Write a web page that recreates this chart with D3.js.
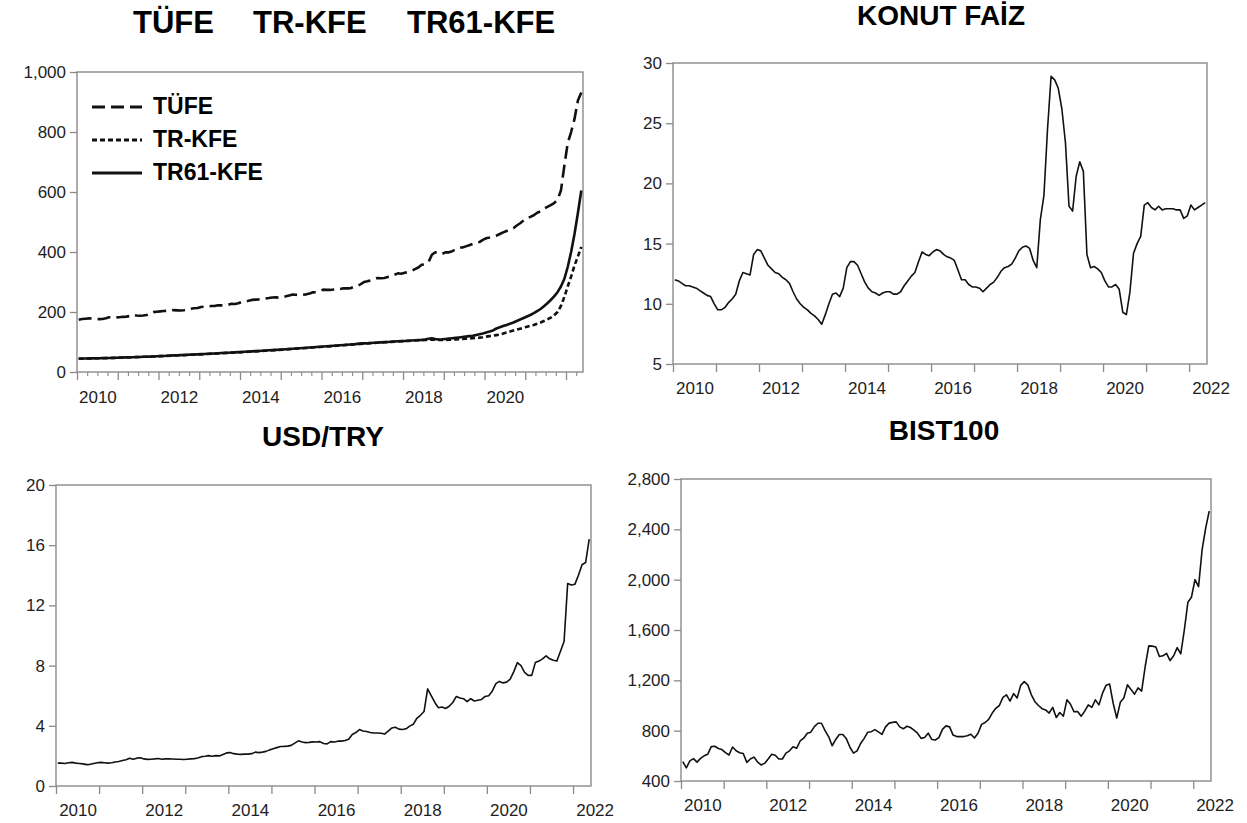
<!DOCTYPE html>
<html>
<head>
<meta charset="utf-8">
<script src="https://cdn.jsdelivr.net/npm/d3@7"></script>
<style>
  body { margin: 0; background: #fff; }
  svg { display: block; }
</style>
</head>
<body>
<svg id="chart" width="1247" height="823"></svg>
<script>
// Monthly observations, January 2010 – May 2022
const startYear = 2010;
const yearTicks = [2010, 2011, 2012, 2013, 2014, 2015, 2016, 2017, 2018, 2019, 2020, 2021, 2022];
const labelYearsShort = [2010, 2012, 2014, 2016, 2018, 2020];
const labelYearsFull = [2010, 2012, 2014, 2016, 2018, 2020, 2022];

// Price indices
const tufe = [
  174.1, 176.6, 177.6, 178.7, 178.0, 177.0, 176.2, 176.9, 179.1, 182.4, 182.4, 181.9,
  182.6, 183.9, 184.7, 186.3, 190.8, 188.1, 187.3, 188.2, 189.9, 196.3, 199.7, 200.9,
  202.0, 203.1, 204.0, 207.1, 206.1, 205.4, 204.8, 205.7, 208.0, 211.1, 212.6, 213.2,
  216.7, 217.4, 218.8, 219.8, 219.8, 222.2, 222.0, 221.7, 223.9, 227.6, 226.7, 229.0,
  233.5, 234.5, 237.2, 240.4, 241.3, 242.1, 243.2, 244.7, 246.4, 248.4, 248.8, 247.7,
  250.5, 252.2, 255.2, 258.0, 257.3, 256.8, 257.1, 258.8, 261.5, 265.5, 265.7, 269.5,
  274.5, 273.7, 273.6, 274.8, 277.0, 276.4, 279.1, 278.9, 279.4, 283.9, 285.8, 292.5,
  299.7, 302.3, 305.7, 309.2, 313.2, 312.6, 313.5, 316.4, 319.0, 324.2, 328.9, 327.4,
  330.8, 334.1, 336.5, 342.8, 348.3, 357.2, 359.3, 366.1, 390.8, 399.1, 394.3, 393.9,
  398.6, 398.9, 402.8, 408.5, 414.9, 415.0, 418.8, 422.6, 426.6, 431.1, 433.1, 440.5,
  445.9, 448.1, 450.9, 454.3, 460.0, 465.4, 470.2, 474.6, 479.1, 488.2, 495.7, 504.8,
  513.3, 517.1, 522.6, 531.0, 535.1, 544.4, 550.6, 556.4, 563.0, 574.0, 604.8, 687.0,
  763.2, 799.9, 843.6, 904.8, 931.8
];
const trKfe = [
  44.0, 44.3, 44.6, 44.8, 45.1, 45.4, 45.6, 45.9, 46.2, 46.5, 46.8, 47.1,
  47.4, 47.9, 48.3, 48.8, 49.2, 49.7, 50.1, 50.6, 51.0, 51.5, 51.9, 52.4,
  52.9, 53.4, 53.9, 54.4, 54.9, 55.4, 55.9, 56.4, 56.9, 57.4, 57.9, 58.4,
  58.9, 59.5, 60.1, 60.7, 61.3, 61.9, 62.5, 63.1, 63.7, 64.3, 64.9, 65.5,
  66.1, 66.8, 67.5, 68.2, 68.9, 69.6, 70.3, 71.0, 71.7, 72.4, 73.1, 73.8,
  74.6, 75.4, 76.2, 77.0, 77.8, 78.6, 79.4, 80.2, 81.0, 81.8, 82.6, 83.4,
  84.2, 85.0, 85.8, 86.7, 87.6, 88.5, 89.4, 90.3, 91.2, 92.1, 93.0, 93.9,
  94.8, 95.5, 96.2, 96.9, 97.6, 98.3, 99.0, 99.7, 100.4, 101.1, 101.8, 102.5,
  103.2, 103.8, 104.4, 105.0, 105.6, 106.2, 106.8, 107.2, 107.6, 107.3, 106.9, 106.5,
  107.0, 107.6, 108.2, 108.9, 109.6, 110.3, 111.0, 111.8, 112.6, 113.5, 114.5, 116.0,
  118.0, 119.5, 121.0, 123.0, 125.0, 128.0, 131.5, 135.0, 138.5, 141.5, 144.5, 147.5,
  151.0, 154.0, 157.0, 161.0, 165.0, 170.0, 175.0, 181.0, 189.0, 200.0, 220.0, 250.0,
  285.0, 318.0, 355.0, 385.0, 417.0
];
const tr61Kfe = [
  44.5, 44.8, 45.0, 45.3, 45.5, 45.8, 46.0, 46.3, 46.6, 46.9, 47.2, 47.5,
  47.8, 48.2, 48.6, 49.0, 49.4, 49.8, 50.2, 50.6, 51.0, 51.4, 51.8, 52.3,
  52.9, 53.5, 54.1, 54.7, 55.3, 55.9, 56.4, 56.9, 57.4, 57.9, 58.4, 58.9,
  59.5, 60.1, 60.7, 61.3, 61.9, 62.5, 63.1, 63.7, 64.3, 64.9, 65.5, 66.1,
  66.7, 67.4, 68.1, 68.8, 69.5, 70.2, 70.9, 71.6, 72.3, 73.0, 73.7, 74.4,
  75.2, 76.0, 76.8, 77.6, 78.4, 79.2, 80.0, 80.8, 81.6, 82.4, 83.2, 84.0,
  84.8, 85.6, 86.4, 87.3, 88.2, 89.1, 90.0, 90.9, 91.8, 92.7, 93.6, 94.5,
  95.3, 96.0, 96.7, 97.4, 98.1, 98.8, 99.5, 100.2, 100.9, 101.6, 102.3, 103.0,
  103.5, 104.2, 104.9, 105.6, 106.3, 107.0, 108.5, 111.0, 112.5, 110.0, 108.5, 109.0,
  110.0, 111.2, 112.4, 113.7, 115.0, 116.5, 118.0, 119.5, 121.0, 123.0, 125.5, 128.5,
  132.0, 135.0, 138.5, 145.0, 149.0, 153.0, 157.0, 161.0, 165.0, 170.0, 175.0, 180.0,
  185.0, 190.0, 196.0, 203.0, 210.0, 219.0, 229.0, 240.0, 252.0, 266.0, 285.0, 310.0,
  350.0, 400.0, 460.0, 530.0, 605.0
];

// Housing loan interest rate (%)
const konutFaiz = [
  12.0, 11.9, 11.7, 11.5, 11.5, 11.4, 11.3, 11.1, 10.9, 10.7, 10.6, 10.0,
  9.5, 9.5, 9.7, 10.1, 10.4, 10.8, 11.9, 12.6, 12.5, 12.4, 14.1, 14.5,
  14.4, 13.8, 13.2, 12.9, 12.6, 12.5, 12.2, 12.0, 11.7, 11.0, 10.4, 10.0,
  9.7, 9.5, 9.2, 9.0, 8.7, 8.3, 9.1, 10.0, 10.8, 10.9, 10.6, 11.3,
  13.0, 13.5, 13.5, 13.2, 12.5, 11.8, 11.3, 11.0, 10.9, 10.7, 10.9, 11.0,
  11.0, 10.8, 10.8, 11.0, 11.5, 11.9, 12.3, 12.6, 13.5, 14.3, 14.1, 14.0,
  14.3, 14.5, 14.4, 14.1, 13.9, 13.8, 13.6, 12.8, 12.0, 12.0, 11.6, 11.4,
  11.4, 11.3, 11.0, 11.3, 11.6, 11.8, 12.2, 12.7, 13.0, 13.1, 13.3, 13.8,
  14.4, 14.7, 14.8, 14.6, 13.6, 13.0, 17.0, 19.0, 24.5, 28.9, 28.6, 27.9,
  26.2, 23.4, 18.1, 17.7, 20.6, 21.8, 21.0, 14.1, 13.0, 13.1, 12.9, 12.6,
  11.9, 11.4, 11.4, 11.6, 11.2, 9.3, 9.1, 11.0, 14.2, 15.0, 15.6, 18.2,
  18.4, 18.0, 17.8, 18.1, 17.8, 17.9, 17.9, 17.9, 17.8, 17.8, 17.1, 17.3,
  18.2, 17.8, 18.0, 18.2, 18.4
];

// Exchange rate
const usdTry = [
  1.52, 1.52, 1.49, 1.55, 1.57, 1.52, 1.50, 1.47, 1.42, 1.44, 1.50, 1.55,
  1.57, 1.55, 1.52, 1.55, 1.60, 1.63, 1.70, 1.75, 1.85, 1.78, 1.85, 1.88,
  1.80, 1.77, 1.78, 1.80, 1.83, 1.78, 1.80, 1.80, 1.79, 1.78, 1.78, 1.76,
  1.78, 1.80, 1.82, 1.86, 1.95, 1.98, 2.02, 1.98, 2.02, 2.00, 2.10, 2.20,
  2.22, 2.15, 2.12, 2.10, 2.12, 2.12, 2.15, 2.25, 2.22, 2.25, 2.30, 2.40,
  2.48, 2.55, 2.62, 2.63, 2.65, 2.70, 2.85, 3.00, 2.92, 2.88, 2.90, 2.93,
  2.92, 2.95, 2.82, 2.80, 2.95, 2.92, 2.98, 2.98, 3.02, 3.10, 3.42, 3.55,
  3.75, 3.65, 3.62, 3.55, 3.52, 3.52, 3.50, 3.45, 3.65, 3.85, 3.90, 3.78,
  3.75, 3.80, 3.98, 4.10, 4.50, 4.70, 4.95, 6.45, 6.00, 5.55, 5.20, 5.25,
  5.15, 5.30, 5.55, 5.95, 5.85, 5.80, 5.60, 5.80, 5.65, 5.70, 5.75, 5.95,
  6.00, 6.30, 6.80, 6.95, 6.85, 6.90, 7.10, 7.60, 8.20, 8.00, 7.55, 7.35,
  7.35, 8.20, 8.30, 8.45, 8.65, 8.45, 8.35, 8.30, 8.95, 9.60, 13.45, 13.35,
  13.40, 14.00, 14.70, 14.85, 16.40
];

// Borsa Istanbul 100 index (thousands scaled as points / 100)
const bist100 = [
  554, 505, 560, 578, 550, 580, 600, 612, 673, 676, 658, 650,
  625, 607, 670, 640, 625, 618, 548, 575, 590, 552, 528, 540,
  575, 612, 605, 575, 575, 622, 640, 672, 660, 718, 740, 780,
  788, 832, 859, 859, 800, 753, 680, 730, 770, 770, 735, 668,
  622, 640, 698, 739, 788, 792, 808, 790, 770, 830, 860, 866,
  870, 830, 815, 835, 825, 805, 780, 739, 745, 780, 730, 726,
  745, 810, 838, 830, 765, 753, 753, 753, 760, 772, 742, 779,
  850, 865, 890, 940, 978, 1000, 1065, 1085, 1035, 1095, 1060, 1160,
  1190, 1164, 1085, 1030, 1000, 975, 965, 940, 985, 905, 944, 915,
  1045, 1010, 950, 952, 915, 955, 1005, 985, 1045, 1005, 1098, 1160,
  1170, 1018, 900, 1025, 1060, 1164, 1128, 1090, 1140, 1115, 1310, 1474,
  1472, 1465, 1390, 1395, 1415, 1357, 1395, 1460, 1410, 1600, 1820, 1860,
  2000, 1945, 2238, 2410, 2545
];

const nObs = tufe.length;
const endYear = startYear + nObs / 12;
const obsTime = i => startYear + (i + 0.5) / 12;

const FONT = "'Liberation Sans', Arial, Helvetica, sans-serif";
const svg = d3.select("#chart");

function panel(opts) {
  const { left, right, top, bottom, yDomain, yTicks, yFormat, labelYears,
          labelOffset, minorTicks } = opts;
  const x = d3.scaleLinear().domain([startYear, endYear]).range([left, right]);
  const y = d3.scaleLinear().domain(yDomain).range([bottom, top]);
  const g = svg.append("g");

  // y axis
  const ya = g.append("g")
    .attr("transform", `translate(${left},0)`)
    .call(d3.axisLeft(y).tickValues(yTicks).tickSize(7).tickPadding(4).tickFormat(yFormat));
  ya.select(".domain").remove();
  ya.selectAll("line").attr("stroke", "#8a8a8a").attr("stroke-width", 1.3);
  ya.selectAll("text").attr("font-family", FONT).attr("font-size", 17).attr("fill", "#1e1e1e");

  // minor x ticks
  if (minorTicks) {
    const mg = g.append("g")
      .attr("transform", `translate(0,${bottom})`)
      .call(d3.axisBottom(x).tickValues(minorTicks).tickSize(4).tickFormat(""));
    mg.select(".domain").remove();
    mg.selectAll("line").attr("stroke", "#8a8a8a").attr("stroke-width", 1.1);
  }
  // year ticks
  const xa = g.append("g")
    .attr("transform", `translate(0,${bottom})`)
    .call(d3.axisBottom(x).tickValues(yearTicks.filter(v => v <= endYear)).tickSize(8).tickFormat(""));
  xa.select(".domain").remove();
  xa.selectAll("line").attr("stroke", "#8a8a8a").attr("stroke-width", 1.3);

  // year labels centred on each year
  const xl = g.append("g")
    .attr("transform", `translate(0,${bottom})`)
    .call(d3.axisBottom(x).tickValues(labelYears.map(v => v + 0.5)).tickSize(0)
      .tickPadding(labelOffset).tickFormat(d => String(Math.floor(d))));
  xl.select(".domain").remove();
  xl.selectAll("text").attr("font-family", FONT).attr("font-size", 17).attr("fill", "#1e1e1e");

  // frame
  g.append("rect")
    .attr("x", left).attr("y", top)
    .attr("width", right - left).attr("height", bottom - top)
    .attr("fill", "none").attr("stroke", "#8a8a8a").attr("stroke-width", 1.4);

  return { g, x, y };
}

function drawLine(p, values, width, dash) {
  const line = d3.line().x((d, i) => p.x(obsTime(i))).y(d => p.y(d));
  p.g.append("path")
    .datum(values)
    .attr("d", line)
    .attr("fill", "none")
    .attr("stroke", "#111")
    .attr("stroke-width", width)
    .attr("stroke-linejoin", "round")
    .attr("stroke-dasharray", dash || null);
}

function title(text, x, yPos, size, anchor) {
  svg.append("text")
    .attr("x", x).attr("y", yPos)
    .attr("text-anchor", anchor || "middle")
    .attr("font-family", FONT).attr("font-weight", "bold")
    .attr("font-size", size).attr("fill", "#000")
    .text(text);
}

// ---- Price indices ----
const quarterTicks = d3.range(startYear * 4, endYear * 4 + 0.001).map(q => q / 4).filter(v => v % 1 !== 0);
const p1 = panel({
  left: 77, right: 583, top: 72, bottom: 372,
  yDomain: [0, 1000], yTicks: [0, 200, 400, 600, 800, 1000], yFormat: d3.format(","),
  labelYears: labelYearsShort, labelOffset: 19, minorTicks: quarterTicks
});
drawLine(p1, tufe, 2.6, "13,6");
drawLine(p1, trKfe, 2.6, "5,3");
drawLine(p1, tr61Kfe, 2.6, null);

const legendItems = [
  { name: "TÜFE", dash: "13,6", y: 107 },
  { name: "TR-KFE", dash: "5,3", y: 140 },
  { name: "TR61-KFE", dash: null, y: 173 }
];
legendItems.forEach(item => {
  p1.g.append("line")
    .attr("x1", 92).attr("x2", 142).attr("y1", item.y).attr("y2", item.y)
    .attr("stroke", "#111").attr("stroke-width", 2.8)
    .attr("stroke-dasharray", item.dash);
  p1.g.append("text")
    .attr("x", 153).attr("y", item.y + 7)
    .attr("font-family", FONT).attr("font-weight", "bold")
    .attr("font-size", 23).attr("fill", "#000")
    .text(item.name);
});
title("TÜFE", 133, 33, 31, "start");
title("TR-KFE", 253, 33, 31, "start");
title("TR61-KFE", 407, 33, 31, "start");

// ---- Housing loan rate ----
const p2 = panel({
  left: 673, right: 1207, top: 63, bottom: 364,
  yDomain: [5, 30], yTicks: [5, 10, 15, 20, 25, 30], yFormat: d3.format("d"),
  labelYears: labelYearsFull, labelOffset: 18
});
drawLine(p2, konutFaiz, 1.6, null);
title("KONUT FAİZ", 941, 25, 28);

// ---- Exchange rate ----
const p3 = panel({
  left: 56, right: 591, top: 485, bottom: 786,
  yDomain: [0, 20], yTicks: [0, 4, 8, 12, 16, 20], yFormat: d3.format("d"),
  labelYears: labelYearsFull, labelOffset: 18
});
drawLine(p3, usdTry, 1.6, null);
title("USD/TRY", 323, 446, 28);

// ---- Stock index ----
const p4 = panel({
  left: 681, right: 1211, top: 479, bottom: 781,
  yDomain: [400, 2800], yTicks: [400, 800, 1200, 1600, 2000, 2400, 2800], yFormat: d3.format(","),
  labelYears: labelYearsFull, labelOffset: 18
});
drawLine(p4, bist100, 1.6, null);
title("BIST100", 944, 440, 28);
</script>
</body>
</html>
